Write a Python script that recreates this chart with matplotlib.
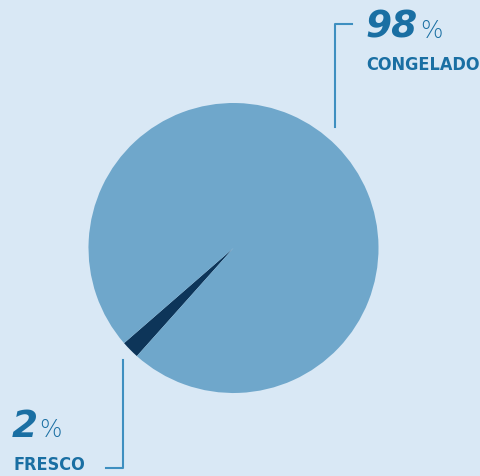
import matplotlib.pyplot as plt
from matplotlib import font_manager as fm

# datos
labels = ["FRESCO", "CONGELADO"]
values = [2, 98]
pcts = ["2", "98"]
colors = ["#0d3559", "#6fa7cb"]

bg = "#d9e8f5"
txt = "#1a6fa3"
linec = "#3e8fc0"

# buscar una fuente estrecha
narrow = dict(family="DejaVu Sans", fontstretch="condensed")
lab_size = 13
f = fm.findfont(fm.FontProperties(family="DejaVu Sans", stretch="condensed",
                                  weight="bold"))
if "Condensed" not in f:
    narrow = dict(family="DejaVu Sans")
    lab_size = 11.5

W, H = 481, 476
fig = plt.figure(figsize=(W / 100, H / 100), dpi=100)
fig.patch.set_facecolor(bg)
ax = fig.add_axes([0, 0, 1, 1])
ax.set_facecolor(bg)

ax.pie(values, colors=colors, startangle=221, counterclock=True,
       center=(233.5, H - 248), radius=145, frame=True,
       wedgeprops=dict(linewidth=0))
ax.set_xlim(0, W)
ax.set_ylim(0, H)
ax.set_aspect("equal")
ax.axis("off")

# etiqueta congelado
ax.plot([352, 335, 335], [H - 24, H - 24, H - 127], color=linec, lw=1.5)
ax.text(365, H - 38, pcts[1], fontsize=27, fontweight="bold", style="italic",
        color=txt, va="baseline", ha="left")
ax.text(420, H - 38, "%", fontsize=17, fontweight="light", color=txt,
        va="baseline", ha="left")
ax.text(366, H - 70, labels[1], fontsize=lab_size, fontweight="bold",
        color=txt, va="baseline", ha="left", **narrow)

# etiqueta fresco
ax.plot([123, 123, 106], [H - 360, H - 468, H - 468], color=linec, lw=1.5)
ax.text(12, H - 437, pcts[0], fontsize=27, fontweight="bold", style="italic",
        color=txt, va="baseline", ha="left")
ax.text(39, H - 437, "%", fontsize=17, fontweight="light", color=txt,
        va="baseline", ha="left")
ax.text(14, H - 470, labels[0], fontsize=lab_size, fontweight="bold",
        color=txt, va="baseline", ha="left", **narrow)

fig.savefig("out.png", dpi=100, facecolor=bg)
